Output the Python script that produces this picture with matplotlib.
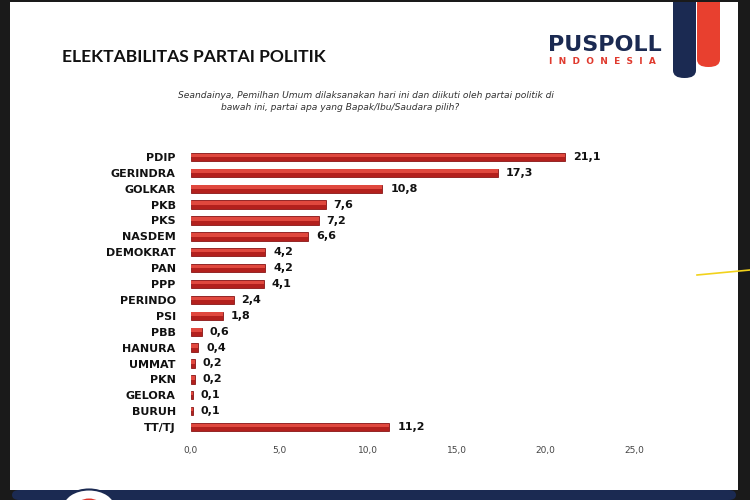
import matplotlib
matplotlib.use("Agg")
import matplotlib.pyplot as plt
from matplotlib.patches import Rectangle, FancyBboxPatch, Circle

parties = ["PDIP", "GERINDRA", "GOLKAR", "PKB", "PKS", "NASDEM", "DEMOKRAT", "PAN",
           "PPP", "PERINDO", "PSI", "PBB", "HANURA", "UMMAT", "PKN", "GELORA", "BURUH", "TT/TJ"]
values = [21.1, 17.3, 10.8, 7.6, 7.2, 6.6, 4.2, 4.2, 4.1, 2.4, 1.8, 0.6, 0.4, 0.2, 0.2, 0.1, 0.1, 11.2]
xticks = [0, 5, 10, 15, 20, 25]

W, H = 750, 500
fig = plt.figure(figsize=(7.5, 5), dpi=100)
fig.patch.set_facecolor("#1a1a1a")

def fx(px): return px / W
def fy(py): return 1 - py / H

# white slide
fig.patches.append(Rectangle((fx(10), fy(490)), fx(738) - fx(10), fy(2) - fy(490),
                             transform=fig.transFigure, facecolor="white", edgecolor="none", zorder=0))
# bottom navy band
fig.patches.append(FancyBboxPatch((fx(12), fy(500)), fx(736) - fx(12), fy(490) - fy(500),
                                  boxstyle="round,pad=0,rounding_size=0.01",
                                  transform=fig.transFigure, facecolor="#1b2a52", edgecolor="none", zorder=1))
fig.patches.append(Circle((fx(89), fy(507)), 0.035, transform=fig.transFigure,
                          facecolor="white", edgecolor="#1b2a52", lw=1.5, zorder=2))
fig.patches.append(Circle((fx(89), fy(507)), 0.017, transform=fig.transFigure,
                          facecolor="#d9342b", edgecolor="none", zorder=3))

# logo pills
fig.patches.append(FancyBboxPatch((fx(673), fy(78)), fx(23), fy(0) - fy(78) + 0.05,
                                  boxstyle="round,pad=0,rounding_size=0.015",
                                  transform=fig.transFigure, facecolor="#1b2a52", edgecolor="none", zorder=2))
fig.patches.append(FancyBboxPatch((fx(697), fy(67)), fx(23), fy(0) - fy(67) + 0.05,
                                  boxstyle="round,pad=0,rounding_size=0.015",
                                  transform=fig.transFigure, facecolor="#e8402f", edgecolor="none", zorder=2))
fig.patches.append(Rectangle((0, fy(2)), 1, 0.01, transform=fig.transFigure,
                             facecolor="#1a1a1a", edgecolor="none", zorder=4))

fig.text(fx(548), fy(45), "PUSPOLL", fontsize=16, fontweight="bold", color="#1b2a52",
         family="DejaVu Sans", va="center", ha="left")
fig.text(fx(549), fy(62), "I  N  D  O  N  E  S  I  A", fontsize=6.5, fontweight="bold", color="#e03a2e",
         family="DejaVu Sans", va="center", ha="left")

# title & subtitle
fig.text(fx(62), fy(57), "ELEKTABILITAS PARTAI POLITIK", fontsize=12.6, color="#111111",
         family="Lato", fontweight="bold", va="center", ha="left")
fig.text(fx(366), fy(95), "Seandainya, Pemilhan Umum dilaksanakan hari ini dan diikuti oleh partai politik di",
         fontsize=6.6, style="italic", color="#333333", va="center", ha="center", family="DejaVu Sans")
fig.text(fx(340), fy(107), "bawah ini, partai apa yang Bapak/Ibu/Saudara pilih?",
         fontsize=6.6, style="italic", color="#333333", va="center", ha="center", family="DejaVu Sans")

# yellow pen mark
fig.lines.append(plt.Line2D([fx(697), fx(750)], [fy(275), fy(270)], transform=fig.transFigure,
                            color="#f2d21b", lw=1.2, zorder=5))

ax = fig.add_axes([fx(191), fy(435), fx(634) - fx(191), fy(149) - fy(435)])
ax.set_zorder(10)
ax.set_facecolor("none")
y = list(range(len(parties)))
ax.barh(y, values, height=0.52, color="#b3201d", edgecolor="#8a1616", linewidth=0.6, zorder=2)
ax.barh([v - 0.1 for v in y], values, height=0.22, color="#e0483e", edgecolor="none", zorder=3)
for yi, v in zip(y, values):
    ax.text(v + 0.45, yi, f"{v:.1f}".replace(".", ","), fontsize=8, fontweight="bold",
            color="#111111", va="center", ha="left")
ax.set_xlim(0, 25)
ax.set_ylim(len(parties) - 0.5, -0.5)
ax.set_yticks(y)
ax.set_yticklabels(parties, fontsize=8, fontweight="bold", color="#111111")
ax.set_xticks(xticks)
ax.set_xticklabels([f"{t:.1f}".replace(".", ",") for t in xticks], fontsize=6.5, color="#444444")
ax.tick_params(axis="both", length=0)
ax.tick_params(axis="y", pad=11)
ax.tick_params(axis="x", pad=8)
for s in ax.spines.values():
    s.set_visible(False)

fig.savefig("out.png", dpi=100, facecolor=fig.get_facecolor())
